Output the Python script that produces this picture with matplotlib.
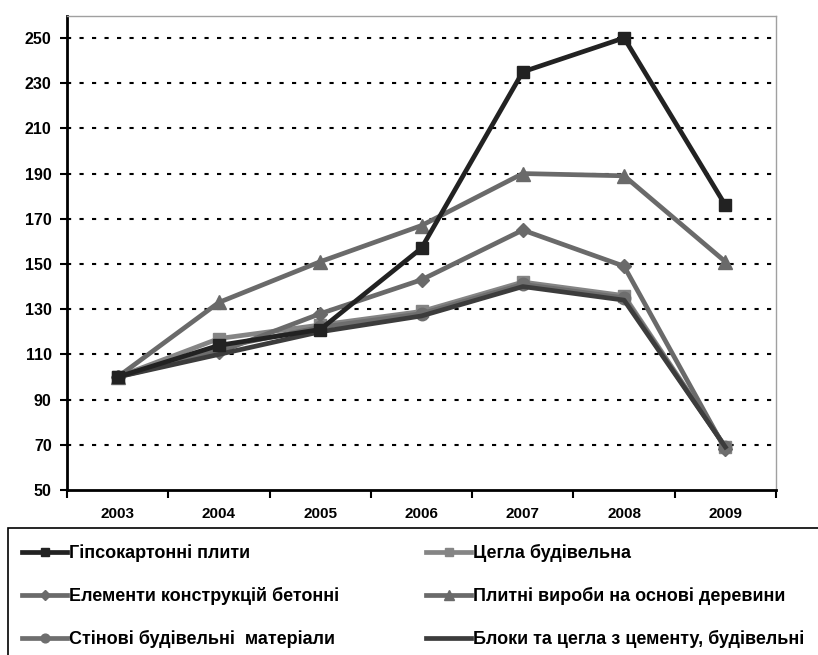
import matplotlib.pyplot as plt
from matplotlib.patches import Rectangle

plt.rcParams['font.family'] = ['Liberation Sans', 'DejaVu Sans']
plt.rcParams['font.weight'] = 'bold'

years = ['2003', '2004', '2005', '2006', '2007', '2008', '2009']

gypsum = [100, 114, 121, 157, 235, 250, 176]
brick = [100, 117, 123, 129, 142, 136, 69]
concrete = [100, 111, 128, 143, 165, 149, 68]
wood_boards = [100, 133, 151, 167, 190, 189, 151]
wall_materials = [100, 113, 122, 128, 141, 135, 69]
cement_blocks = [100, 110, 120, 127, 140, 134, 69]

labels = [
    'Гіпсокартонні плити',
    'Цегла будівельна',
    'Елементи конструкцій бетонні',
    'Плитні вироби на основі деревини',
    'Стінові будівельні  матеріали',
    'Блоки та цегла з цементу, будівельні',
]

fig = plt.figure(figsize=(8.18, 6.55), dpi=100)
ax = fig.add_axes([67 / 818, 1 - 490 / 655, 709 / 818, 474 / 655])

x = range(len(years))
lw = 3.4
l_gyp, = ax.plot(x, gypsum, color='#222222', lw=lw, marker='s', ms=9, zorder=6)
l_brick, = ax.plot(x, brick, color='#858585', lw=lw, marker='s', ms=9, zorder=3)
l_conc, = ax.plot(x, concrete, color='#6a6a6a', lw=lw, marker='D', ms=7, zorder=4)
l_wood, = ax.plot(x, wood_boards, color='#6a6a6a', lw=lw, marker='^', ms=10, zorder=4)
l_wall, = ax.plot(x, wall_materials, color='#6e6e6e', lw=lw, marker='o', ms=9, zorder=4)
l_block, = ax.plot(x, cement_blocks, color='#3c3c3c', lw=lw, zorder=5)

ax.set_xlim(-0.5, 6.5)
ax.set_ylim(50, 259.7)
ax.set_yticks(range(50, 251, 20))
ax.set_xticks([i + 0.5 for i in range(-1, 7)], minor=True)
ax.set_xticks(list(x))
ax.set_xticklabels(years)
ax.tick_params(axis='x', which='major', length=0, pad=12, labelsize=11)
ax.tick_params(axis='x', which='minor', length=6, width=1.5, direction='out')
ax.tick_params(axis='y', length=5, width=1.5, direction='out', labelsize=11.5, pad=6)

for v in range(70, 251, 20):
    ax.axhline(v, color='black', lw=1.5, ls=(0, (2, 4)), zorder=1)

for s in ['left', 'bottom']:
    ax.spines[s].set_linewidth(2)
    ax.spines[s].set_color('black')
for s in ['top', 'right']:
    ax.spines[s].set_linewidth(1)
    ax.spines[s].set_color('#a0a0a0')

# legend box (cut off at right and bottom like the original)
fig.add_artist(Rectangle((8 / 818, -0.1), 1.0, (655 - 528) / 655 + 0.1,
                         transform=fig.transFigure, fill=False,
                         edgecolor='black', lw=1.2, clip_on=False))

handles = [l_gyp, l_conc, l_wall, l_brick, l_wood, l_block]
hlabels = [labels[0], labels[2], labels[4], labels[1], labels[3], labels[5]]
fig.legend(handles, hlabels, ncol=2, loc='upper left',
           bbox_to_anchor=(22 / 818, 1 - 544 / 655), frameon=False,
           prop={'size': 13, 'weight': 'bold'}, markerscale=0.7,
           handlelength=2.5, handletextpad=0.12, labelspacing=1.38,
           columnspacing=4.8, borderaxespad=0, borderpad=0)

fig.savefig('out.png', dpi=100)
